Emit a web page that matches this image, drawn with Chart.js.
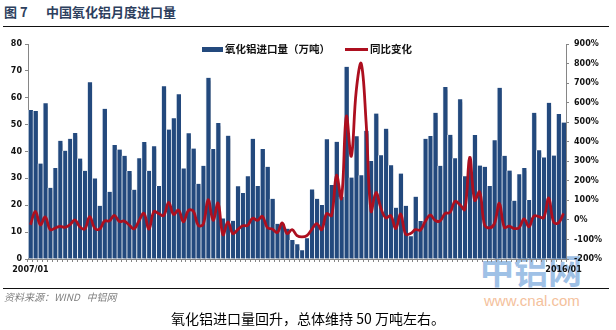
<!DOCTYPE html>
<html lang="zh">
<head>
<meta charset="UTF-8" />
<title>中国氧化铝月度进口量</title>
<style>
    body {
        margin: 0;
        background: #fff;
    }

    #page {
        position: relative;
        width: 616px;
        height: 330px;
        overflow: hidden;
        font-family: "Noto Sans CJK SC", sans-serif;
        background: #fff;
    }

    .abs {
        position: absolute;
        white-space: nowrap;
        line-height: 1;
    }

    #figNo, #figTitle {
        top: 5px;
        font-size: 13px;
        font-weight: bold;
        color: #2d405e;
    }

    #figNo { left: 4px; }
    #figTitle { left: 46px; }

    .rule {
        position: absolute;
        left: 3px;
        width: 606px;
        height: 0;
        border-top: 1.5px solid #111;
    }

    #mark {
        left: 480px;
        top: 253px;
        font-size: 34px;
        font-weight: bold;
        color: #9fc1e6;
        z-index: 1;
    }

    #markUrl {
        left: 484px;
        top: 293px;
        font-family: "Liberation Sans", Arial, sans-serif;
        font-size: 15px;
        color: #f4c19c;
        z-index: 1;
    }

    #chartBox {
        position: absolute;
        left: 0;
        top: 0;
        width: 616px;
        height: 330px;
        z-index: 2;
    }

    .legend {
        z-index: 3;
        font-size: 10.5px;
        font-weight: bold;
        color: #111;
    }

    .swatch {
        position: absolute;
        z-index: 3;
    }

    #source {
        left: 4px;
        top: 292px;
        font-size: 10px;
        font-style: italic;
        color: #808080;
        z-index: 3;
    }

    #caption {
        left: 0;
        width: 616px;
        top: 311px;
        text-align: center;
        font-size: 14px;
        color: #000;
        z-index: 3;
    }
</style>
<script src="https://cdn.jsdelivr.net/npm/chart.js@4"></script>
</head>
<body>
<div id="page">
    <div class="abs" id="figNo">图 7</div>
    <div class="abs" id="figTitle">中国氧化铝月度进口量</div>
    <div class="rule" style="top:26px"></div>

    <div class="abs" id="mark">中铝网</div>
    <div class="abs" id="markUrl">www.cnal.com</div>

    <div id="chartBox"><canvas id="importChart" width="616" height="330"></canvas></div>

    <div class="swatch" style="left:202px;top:47px;width:21px;height:5px;background:#23497d"></div>
    <div class="abs legend" style="left:225px;top:44px">氧化铝进口量（万吨）</div>
    <div class="swatch" style="left:345px;top:48px;width:23px;height:3px;background:#ad0f1f"></div>
    <div class="abs legend" style="left:370px;top:44px">同比变化</div>

    <div class="rule" style="top:288px;z-index:3"></div>
    <div class="abs" id="source">资料来源：WIND&nbsp;&nbsp;&nbsp;中铝网</div>
    <div class="abs" id="caption">氧化铝进口量回升，总体维持 50 万吨左右。</div>
</div>

<script>
// 月份 2007/01 ~ 2016/01
const months = [];
for (let y = 2007; y <= 2016; y++) {
    for (let m = 1; m <= 12; m++) {
        if (y === 2016 && m > 1) break;
        months.push(y + '/' + String(m).padStart(2, '0'));
    }
}
const edgeLabels = ['2007/01', '2016/01'];

// 氧化铝进口量（万吨）
const importVolume = [
    55.4, 55.1, 35.5, 58.0, 26.5, 33.9, 44.0, 40.3, 44.7, 46.9,
    37.4, 32.8, 65.8, 30.0, 19.8, 55.9, 25.0, 42.4, 40.7, 38.4,
    32.7, 25.8, 37.5, 43.5, 32.8, 42.0, 27.2, 64.3, 48.2, 52.4,
    61.3, 33.7, 46.8, 41.1, 28.0, 34.7, 67.4, 40.9, 50.6, 15.1,
    45.9, 14.2, 27.1, 24.6, 30.8, 44.7, 27.2, 40.9, 34.3, 22.4,
    13.1, 13.1, 11.3, 7.1, 5.5, 3.3, 7.7, 25.9, 22.4, 20.1,
    44.6, 27.5, 43.6, 23.2, 71.5, 30.3, 45.7, 31.2, 47.7, 36.5,
    54.1, 38.6, 48.5, 34.9, 19.1, 31.8, 19.8, 8.5, 23.2, 14.1,
    44.7, 45.8, 54.4, 34.7, 64.0, 46.2, 37.5, 59.4, 30.8, 36.8,
    46.1, 34.8, 34.3, 27.2, 44.2, 63.7, 38.4, 32.9, 21.7, 31.5,
    33.9, 22.0, 54.4, 40.5, 37.8, 58.1, 38.5, 54.0, 50.8
];

// 同比变化（%）
const yoyChange = [
    -25, 44, -25, 15, -50, -42, -33, -38, -25, 0,
    -35, -47, 17, -42, -47, -6, -5, 23, -8, -6,
    -26, -46, -4, 34, -47, 42, 32, 22, 90, 28,
    50, -10, 48, 45, -28, -22, 104, -2, 86, -76,
    -10, -70, -50, -30, -28, 9, -2, 18, -40, -46,
    -65, -15, -70, -50, -80, -87, -80, -48, -19, -50,
    32, 22, 228, 110, 530, 326, 660, 800, 500, 45,
    140, 60, 10, 22, -45, 30, -73, -70, -50, -52,
    -7, 25, -3, -5, 33, 38, 95, 78, 53, 320,
    100, 144, -25, -41, -19, 85, -38, -32, -44, -40,
    5, -35, 20, 17, 12, 112, -12, -15, 33
];

const axisFont = { family: 'DejaVu Sans', size: 8, weight: 'bold' };
const axisColor = '#868686';

// 柱子右侧的灰色阴影
const barShadow = {
    id: 'barShadow',
    beforeDatasetDraw(chart, args) {
        if (args.meta.type !== 'bar') return;
        const ctx = chart.ctx;
        ctx.save();
        ctx.shadowColor = 'rgba(0, 0, 0, 0.28)';
        ctx.shadowBlur = 1.5;
        ctx.shadowOffsetX = 3;
        ctx.shadowOffsetY = 3;
    },
    afterDatasetDraw(chart, args) {
        if (args.meta.type !== 'bar') return;
        chart.ctx.restore();
    }
};

new Chart(document.getElementById('importChart'), {
    data: {
        labels: months,
        datasets: [
            {
                type: 'line',
                label: '同比变化',
                data: yoyChange,
                yAxisID: 'yRight',
                borderColor: '#ad0f1f',
                backgroundColor: '#ad0f1f',
                borderWidth: 2.8,
                tension: 0.4,
                pointRadius: 0,
                order: 0
            },
            {
                type: 'bar',
                label: '氧化铝进口量（万吨）',
                data: importVolume,
                yAxisID: 'yLeft',
                backgroundColor: '#23497d',
                borderColor: '#eef3fa',
                borderWidth: { left: 1, right: 0, top: 0, bottom: 0 },
                borderSkipped: false,
                categoryPercentage: 1,
                barPercentage: 1,
                order: 1
            }
        ]
    },
    options: {
        responsive: false,
        animation: false,
        devicePixelRatio: 1,
        events: [],
        layout: { padding: { top: 44, bottom: 51, left: 0, right: 0 } },
        plugins: {
            legend: { display: false },
            tooltip: { enabled: false }
        },
        scales: {
            x: {
                offset: true,
                grid: { drawOnChartArea: false, tickLength: 3, color: axisColor },
                border: { color: axisColor },
                ticks: {
                    autoSkip: false,
                    maxRotation: 0,
                    padding: 3,
                    color: '#111',
                    font: axisFont,
                    callback(value) {
                        const lab = this.getLabelForValue(value);
                        return edgeLabels.includes(lab) ? lab : '';
                    }
                },
                afterFit(scale) { scale.height = 20; }
            },
            yLeft: {
                position: 'left',
                min: 0,
                max: 80,
                grid: { drawOnChartArea: false, tickLength: 3, color: axisColor },
                border: { color: axisColor },
                ticks: { stepSize: 10, padding: 3, color: '#111', font: axisFont },
                afterFit(scale) { scale.width = 28; }
            },
            yRight: {
                position: 'right',
                min: -200,
                max: 900,
                grid: { drawOnChartArea: false, tickLength: 3, color: axisColor },
                border: { color: axisColor },
                ticks: {
                    stepSize: 100,
                    padding: 5,
                    color: '#111',
                    font: axisFont,
                    callback: v => v + '%'
                },
                afterFit(scale) { scale.width = 50; }
            }
        }
    },
    plugins: [barShadow]
});
</script>
</body>
</html>
